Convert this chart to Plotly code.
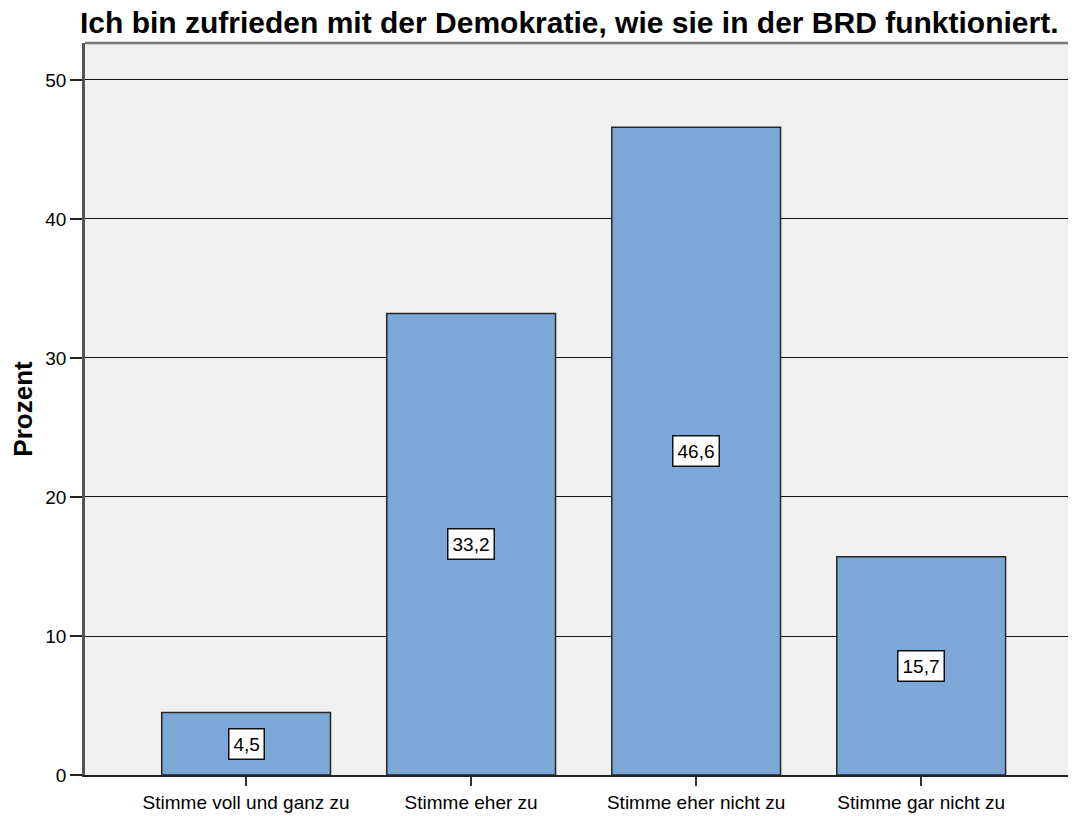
import plotly.graph_objects as go

categories = ["Stimme voll und ganz zu", "Stimme eher zu", "Stimme eher nicht zu", "Stimme gar nicht zu"]
percent = [4.5, 33.2, 46.6, 15.7]
y_ticks = [0, 10, 20, 30, 40, 50]
title_text = "Ich bin zufrieden mit der Demokratie, wie sie in der BRD funktioniert."
y_title = "Prozent"

FONT = "Arial, Liberation Sans, sans-serif"

# page body has an 8px default margin; the figure is sized to fit the window
W, H = 1068, 808

fig = go.Figure()
fig.add_trace(go.Bar(
    x=list(range(len(categories))),
    y=percent,
    width=0.75,
    marker=dict(color="#7BA8D6", line=dict(color="#262626", width=1.5)),
    hoverinfo="skip",
))

for i, v in enumerate(percent):
    fig.add_annotation(
        x=i, y=v / 2, text=f"{v:.1f}".replace(".", ","),
        showarrow=False, font=dict(family=FONT, size=19, color="black"),
        bgcolor="white", bordercolor="#111", borderwidth=1.5, borderpad=4,
    )

fig.update_layout(
    width=W, height=H,
    margin=dict(l=77, r=0, t=35, b=41, autoexpand=False),
    paper_bgcolor="white", plot_bgcolor="#F0F0F0",
    showlegend=False,
    separators=",.",
    title=dict(text=title_text, x=72 / W, xanchor="left", xref="container",
               yref="container", y=1 - 14 / H, yanchor="middle",
               font=dict(family=FONT, size=30, color="black", weight="bold")),
    font=dict(family=FONT, color="black"),
)

fig.update_xaxes(
    range=[-0.716, 3.688], tickmode="array",
    tickvals=list(range(len(categories))), ticktext=categories,
    ticks="outside", ticklen=9, tickcolor="#333", tickwidth=1.5,
    showgrid=False, zeroline=False, automargin=False,
    showline=True, linecolor="#222", linewidth=1.5,
    tickfont=dict(family=FONT, size=19, color="black"),
)
fig.update_yaxes(
    range=[0, 52.66], tickmode="array", tickvals=y_ticks,
    ticks="outside", ticklen=12, tickcolor="#222", tickwidth=1.5,
    showgrid=True, gridcolor="#111", gridwidth=1.3,
    zeroline=False, showline=True, linecolor="#555", linewidth=2.5,
    automargin=False,
    tickfont=dict(family=FONT, size=19, color="black"),
    title=dict(text=y_title, font=dict(family=FONT, size=26, color="black", weight="bold"), standoff=14),
)
# top frame border
fig.add_shape(type="line", xref="paper", yref="paper", x0=0, x1=1, y0=1, y1=1,
              line=dict(color="#777", width=2.5))

fig.write_html("out.html")
